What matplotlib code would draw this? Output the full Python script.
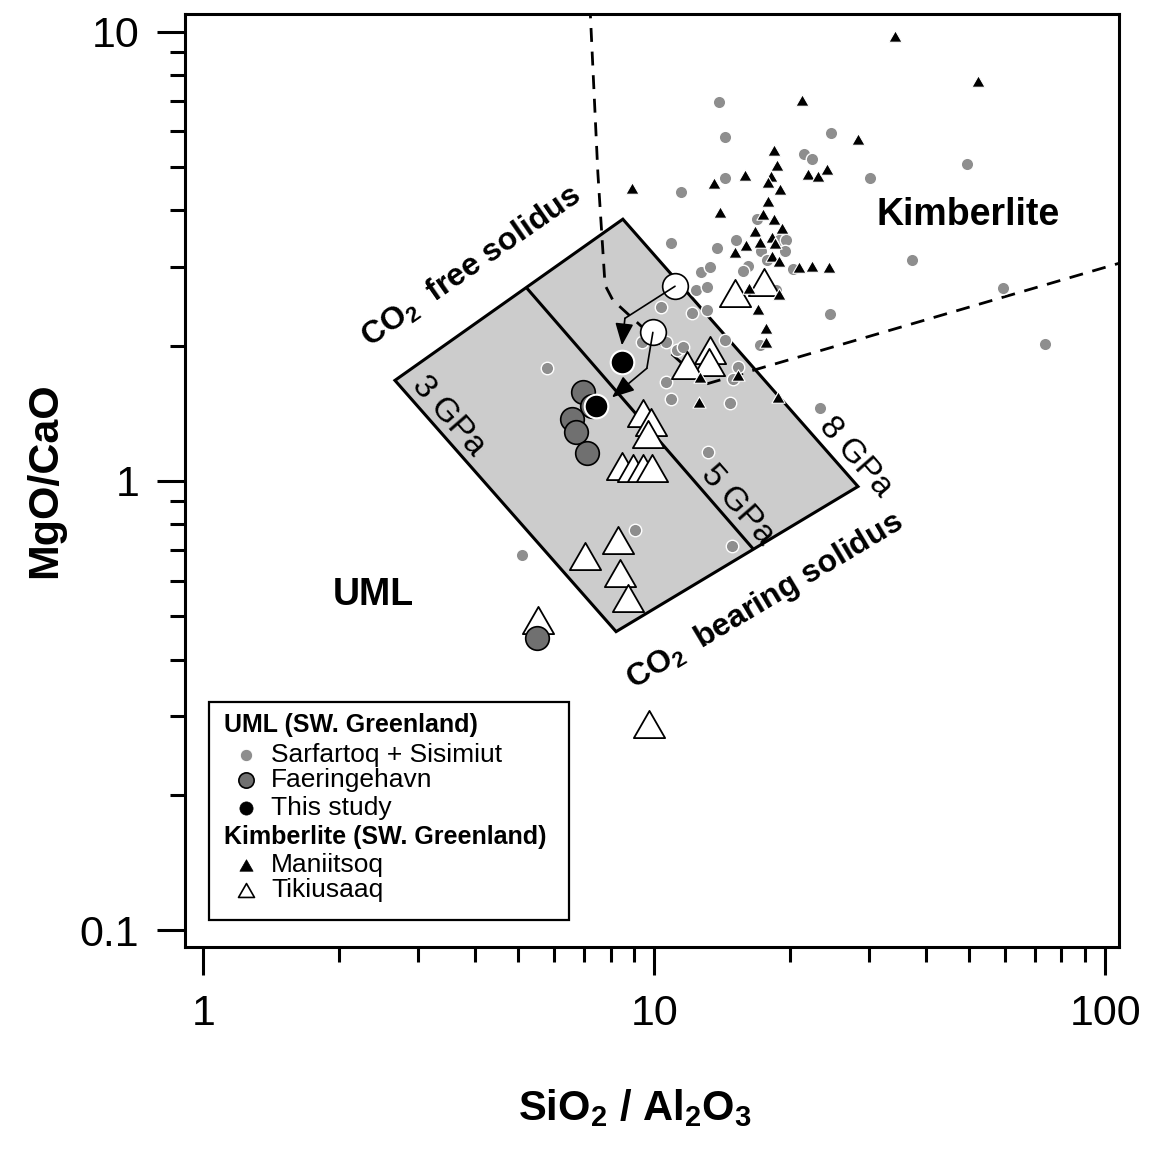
import matplotlib
matplotlib.use('Agg')
import matplotlib.pyplot as plt
from matplotlib.patches import Rectangle, Polygon
from matplotlib.path import Path

plt.rcParams['font.family'] = ['Liberation Sans', 'DejaVu Sans']
plt.rcParams['mathtext.fontset'] = 'custom'
plt.rcParams['mathtext.rm'] = 'Liberation Sans'
plt.rcParams['mathtext.bf'] = 'Liberation Sans:bold'
plt.rcParams['mathtext.it'] = 'Liberation Sans:italic'

# ---------------- data ----------------
# UML Sarfartoq + Sisimiut
sarf_x = [13.92, 14.35, 24.65, 21.47, 22.37, 49.37, 30.08, 14.35, 11.46, 10.89,
          13.77, 15.18, 16.89, 18.90, 19.59, 19.49, 17.24, 17.78, 37.27, 12.69,
          13.29, 16.14, 15.73, 20.30, 12.37, 13.09, 10.35, 12.12, 13.09, 24.52,
          59.33, 73.5, 14.35, 17.15, 18.61, 9.39, 10.61, 11.23, 11.58, 15.33,
          14.95, 10.61, 10.89, 14.72, 23.30, 5.78, 13.15, 9.06, 14.87, 5.09]
sarf_y = [6.97, 5.83, 5.95, 5.34, 5.20, 5.07, 4.72, 4.72, 4.39, 3.38,
          3.30, 3.43, 3.82, 3.43, 3.43, 3.25, 3.25, 3.10, 3.11, 2.914,
          2.99, 3.005, 2.93, 2.96, 2.657, 2.698, 2.435, 2.361, 2.398, 2.349,
          2.685, 2.014, 2.056, 2.003, 2.657, 2.035, 2.035, 1.953, 1.983, 1.789,
          1.683, 1.657, 1.518, 1.488, 1.450, 1.781, 1.157, 0.779, 0.718, 0.685]

# UML Faeringehavn
fae_x = [6.95, 7.27, 6.57, 6.71, 7.09, 5.50]
fae_y = [1.574, 1.465, 1.370, 1.282, 1.151, 0.448]

# This study
study_x = [8.48, 7.43]
study_y = [1.836, 1.465]

# Primary melt estimates (open circles) and arrows
prim_x = [11.12, 9.93]
prim_y = [2.712, 2.141]
arrow1_x = [11.12, 8.61, 8.48]
arrow1_y = [2.712, 2.301, 2.003]
arrow2_x = [9.93, 9.63, 8.06]
arrow2_y = [2.141, 1.781, 1.534]

# Kimberlite Maniitsoq
man_x = [34.18, 52.21, 21.26, 28.29, 18.43, 18.71, 18.15, 15.89, 13.56, 21.92,
         23.07, 24.15, 19.00, 17.87, 17.87, 13.99, 17.42, 18.43, 19.19, 16.72,
         18.24, 15.97, 17.15, 18.52, 15.10, 18.24, 18.90, 20.94, 22.37, 24.35,
         16.22, 18.90, 16.98, 17.69, 17.69, 8.92, 12.63, 15.33, 12.57, 18.81]
man_y = [9.78, 7.77, 7.04, 5.77, 5.45, 5.05, 4.77, 4.79, 4.60, 4.82,
         4.77, 4.94, 4.46, 4.62, 4.19, 3.96, 3.92, 3.82, 3.65, 3.60,
         3.50, 3.35, 3.40, 3.38, 3.23, 3.16, 3.08, 2.99, 3.005, 2.99,
         2.685, 2.603, 2.410, 2.186, 2.035, 4.48, 1.700, 1.718, 1.495, 1.534]

# Kimberlite Tikiusaaq
tik_x = [15.10, 17.51, 13.29, 13.22, 11.82, 9.44, 9.83, 9.68, 8.48, 8.97,
         9.44, 9.88, 7.02, 8.31, 8.39, 8.74, 5.52, 9.73]
tik_y = [2.616, 2.768, 1.953, 1.836, 1.808, 1.413, 1.349, 1.275, 1.082, 1.071,
         1.066, 1.066, 0.682, 0.737, 0.625, 0.550, 0.489, 0.288]

# Solidus box (3 GPa - 8 GPa) and 5 GPa divider
box_x = [2.661, 8.52, 28.3, 8.23]
box_y = [1.674, 3.825, 0.9717, 0.4618]
mid_x = [5.22, 16.55]
mid_y = [2.685, 0.7068]

# UML / kimberlite boundary (dashed)
bound_x = [7.20, 7.50, 7.78, 8.10, 12.96, 107.3]
bound_y = [11.5, 4.84, 2.727, 2.523, 1.640, 3.051]

xticks = [1, 10, 100]
xticklabels = ['1', '10', '100']
yticks = [0.1, 1, 10]
yticklabels = ['0.1', '1', '10']

# ---------------- figure ----------------
W, H = 1156, 1149
fig = plt.figure(figsize=(W / 100, H / 100), dpi=100)
L, R, T, B = 185, 1119, 14, 947
ax = fig.add_axes([L / W, (H - B) / H, (R - L) / W, (B - T) / H])
ax.set_xscale('log')
ax.set_yscale('log')
ax.set_xlim(0.911, 107.3)
ax.set_ylim(0.0917, 10.95)

for s in ax.spines.values():
    s.set_linewidth(2.2)

ax.set_xticks(xticks)
ax.set_xticklabels(xticklabels)
ax.set_yticks(yticks)
ax.set_yticklabels(yticklabels)
ax.tick_params(which='major', direction='out', length=20, width=2.2,
               labelsize=31, top=False, right=False)
ax.tick_params(which='minor', direction='out', length=10.5, width=2.2,
               top=False, right=False, labelbottom=False, labelleft=False)
ax.tick_params(axis='x', which='major', pad=14)
ax.tick_params(axis='y', which='major', pad=13)

# Box
ax.add_patch(Polygon(list(zip(box_x, box_y)), closed=True, facecolor='#cccccc',
                     edgecolor='black', linewidth=2.2, zorder=1))
ax.plot(mid_x, mid_y, color='black', lw=2.2, zorder=1.5)

# Boundary
ax.plot(bound_x, bound_y, color='black', lw=2.0, linestyle=(0, (5, 3.5)), zorder=2)

# Points
tri = Path([(0, 0.87), (-1, -0.87), (1, -0.87), (0, 0.87)],
           [Path.MOVETO, Path.LINETO, Path.LINETO, Path.CLOSEPOLY])
ax.plot(sarf_x, sarf_y, 'o', ms=9, mfc='#8e8e8e', mec='white', mew=1.0, zorder=3)
ax.plot(tik_x, tik_y, linestyle='none', marker=tri, ms=22.5, mfc='white', mec='black',
        mew=1.3, zorder=4)
ax.plot(man_x, man_y, linestyle='none', marker=tri, ms=9.5, mfc='black', mec='white',
        mew=0.8, zorder=5)
ax.plot(fae_x, fae_y, 'o', ms=17, mfc='#707070', mec='black', mew=1.2, zorder=6)
ax.plot(study_x, study_y, 'o', ms=17, mfc='black', mec='white', mew=1.5, zorder=7)
ax.plot(prim_x, prim_y, 'o', ms=18.5, mfc='white', mec='black', mew=1.2, zorder=8)

# Arrows
for axs, ays in ((arrow1_x, arrow1_y), (arrow2_x, arrow2_y)):
    ax.plot(axs[:2], ays[:2], color='black', lw=1.2, zorder=9, solid_capstyle='round')
    ax.annotate('', xy=(axs[2], ays[2]), xytext=(axs[1], ays[1]),
                arrowprops=dict(arrowstyle='-|>,head_length=0.8,head_width=0.33',
                                color='black', lw=1.2, shrinkA=0, shrinkB=0,
                                mutation_scale=17), zorder=9)

# Field labels
ax.text(0.838, 0.7846, 'Kimberlite', transform=ax.transAxes, fontsize=27,
        fontweight='bold', ha='center', va='center')
ax.text(0.2013, 0.3773, 'UML', transform=ax.transAxes, fontsize=27,
        fontweight='bold', ha='center', va='center')

ax.text(0.3062, 0.7288, r'CO$_{\mathbf{2}}$  free solidus', transform=ax.transAxes,
        fontsize=23, fontweight='bold', ha='center', va='center',
        rotation=34.8, rotation_mode='anchor')
ax.text(0.621, 0.3708, r'CO$_{\mathbf{2}}$  bearing solidus', transform=ax.transAxes,
        fontsize=23, fontweight='bold', ha='center', va='center',
        rotation=30.9, rotation_mode='anchor')

for txt, xx, yy in (('3 GPa', 0.2816, 0.5691), ('5 GPa', 0.591, 0.4737),
                    ('8 GPa', 0.7173, 0.5252)):
    ax.text(xx, yy, txt, transform=ax.transAxes, fontsize=24, ha='center',
            va='center', rotation=-49, rotation_mode='anchor')

# Legend (manual)
ax.add_patch(Rectangle((0.0257, 0.0289), 0.3854, 0.2337, transform=ax.transAxes,
                       facecolor='white', edgecolor='black', lw=1.6, zorder=10))
lx_m, lx_t = 0.0653, 0.0921
ax.text(0.0418, 0.2379, 'UML (SW. Greenland)', transform=ax.transAxes, fontsize=18,
        fontweight='bold', va='center', ha='left', zorder=11)
ax.text(0.0418, 0.1179, 'Kimberlite (SW. Greenland)', transform=ax.transAxes,
        fontsize=18, fontweight='bold', va='center', ha='left', zorder=11)
rows = [
    (0.2058, 'Sarfartoq + Sisimiut', dict(marker='o', ms=9, mfc='#8e8e8e', mec='white', mew=0.8)),
    (0.1790, 'Faeringehavn', dict(marker='o', ms=11, mfc='#707070', mec='black', mew=1.2)),
    (0.1490, 'This study', dict(marker='o', ms=9.5, mfc='black', mec='black', mew=0.5)),
    (0.0879, 'Maniitsoq', dict(marker=tri, ms=9.5, mfc='black', mec='black', mew=0.5)),
    (0.0611, 'Tikiusaaq', dict(marker=tri, ms=11.5, mfc='white', mec='black', mew=1.2)),
]
for yy, label, st in rows:
    ax.plot([lx_m], [yy], linestyle='none', transform=ax.transAxes, zorder=11,
            clip_on=False, **st)
    ax.text(lx_t, yy, label, transform=ax.transAxes, fontsize=19, va='center',
            ha='left', zorder=11)

# Axis titles
fig.text(45 / W, 1 - 480 / H, 'MgO/CaO', rotation=90, fontsize=31,
         fontweight='bold', ha='center', va='center')
fig.text(635 / W, 1 - 1108 / H, r'SiO$_{\mathbf{2}}$ / Al$_{\mathbf{2}}$O$_{\mathbf{3}}$',
         fontsize=30, fontweight='bold', ha='center', va='center')

fig.savefig('out.png', dpi=100)
